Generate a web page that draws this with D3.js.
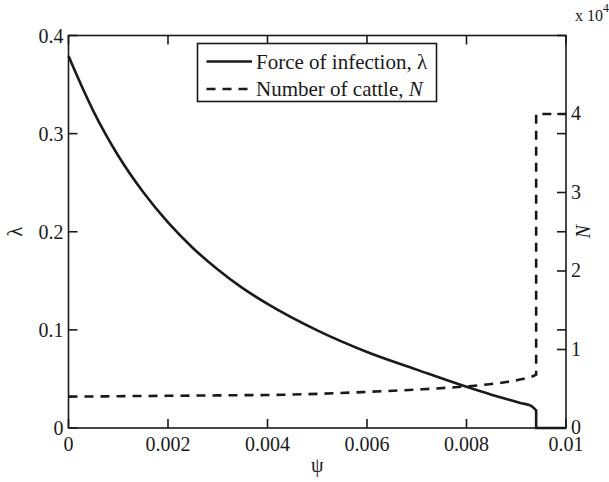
<!DOCTYPE html>
<html>
<head>
<meta charset="utf-8">
<script src="https://cdn.jsdelivr.net/npm/d3@7"></script>
<style>
  html, body { margin: 0; padding: 0; background: #fff; }
  svg { display: block; font-family: "Liberation Serif", "Times New Roman", serif; }
</style>
</head>
<body>
<div id="chart"></div>
<script>
// Data
const psi     = [0, 0.00025, 0.0005, 0.00075, 0.001, 0.0015, 0.002, 0.0025, 0.003, 0.0035, 0.004, 0.005, 0.006, 0.007, 0.008, 0.0085, 0.0088, 0.0091, 0.0093, 0.0094];
const lambda  = [0.379, 0.350, 0.323, 0.299, 0.2775, 0.2405, 0.2095, 0.1835, 0.1615, 0.1425, 0.1265, 0.0995, 0.0775, 0.0595, 0.0420, 0.034, 0.0296, 0.0253, 0.0225, 0.018];
const cattle  = [4000, 4010, 4020, 4030, 4050, 4080, 4100, 4130, 4150, 4180, 4200, 4350, 4600, 4900, 5300, 5600, 5850, 6200, 6500, 6800];
// step after the threshold
const psiStep    = [0.0094, 0.0094, 0.01];
const lambdaStep = [0.018, 0, 0];
const cattleStep = [6800, 40000, 40000];

const xTicks = [0, 0.002, 0.004, 0.006, 0.008, 0.01];
const xTickLabels = ['0', '0.002', '0.004', '0.006', '0.008', '0.01'];
const lTicks = [0, 0.1, 0.2, 0.3, 0.4];
const nTicks = [0, 10000, 20000, 30000, 40000];

const W = 609, H = 482;
const plot = { left: 68.5, right: 566, top: 35.5, bottom: 428 };
const ink = '#1a1a1a';
const tickLen = 9;

const x = d3.scaleLinear().domain([0, 0.01]).range([plot.left, plot.right]);
const yL = d3.scaleLinear().domain([0, 0.4]).range([plot.bottom, plot.top]);
const yN = d3.scaleLinear().domain([0, 50000]).range([plot.bottom, plot.top]);

const svg = d3.select('#chart').append('svg').attr('width', W).attr('height', H);

//Curves
const smoothL = d3.line().x(d => x(d[0])).y(d => yL(d[1])).curve(d3.curveMonotoneX);
const stepL   = d3.line().x(d => x(d[0])).y(d => yL(d[1]));
const smoothN = d3.line().x(d => x(d[0])).y(d => yN(d[1])).curve(d3.curveMonotoneX);
const stepN   = d3.line().x(d => x(d[0])).y(d => yN(d[1]));

const lamPts = psi.map((p, i) => [p, lambda[i]]);
const lamStepPts = psiStep.map((p, i) => [p, lambdaStep[i]]);
const catPts = psi.map((p, i) => [p, cattle[i]]);
const catStepPts = psiStep.map((p, i) => [p, cattleStep[i]]);

svg.append('path')
  .attr('d', smoothN(catPts) + stepN(catStepPts).replace(/^M/, 'L'))
  .attr('fill', 'none').attr('stroke', ink).attr('stroke-width', 2.6)
  .attr('stroke-dasharray', '9,7');

svg.append('path')
  .attr('d', smoothL(lamPts) + stepL(lamStepPts).replace(/^M/, 'L'))
  .attr('fill', 'none').attr('stroke', ink).attr('stroke-width', 2.6);

//Axes
const axisG = svg.append('g').attr('stroke', ink).attr('stroke-width', 1.6);
axisG.append('rect')
  .attr('x', plot.left).attr('y', plot.top)
  .attr('width', plot.right - plot.left).attr('height', plot.bottom - plot.top)
  .attr('fill', 'none');

xTicks.forEach(t => {
  axisG.append('line').attr('x1', x(t)).attr('x2', x(t)).attr('y1', plot.bottom).attr('y2', plot.bottom - tickLen);
  axisG.append('line').attr('x1', x(t)).attr('x2', x(t)).attr('y1', plot.top).attr('y2', plot.top + tickLen);
});
lTicks.forEach(t => {
  axisG.append('line').attr('x1', plot.left).attr('x2', plot.left + tickLen).attr('y1', yL(t)).attr('y2', yL(t));
  axisG.append('line').attr('x1', plot.right).attr('x2', plot.right - tickLen).attr('y1', yL(t)).attr('y2', yL(t));
});
nTicks.forEach(t => {
  axisG.append('line').attr('x1', plot.right).attr('x2', plot.right - tickLen).attr('y1', yN(t)).attr('y2', yN(t));
});

const labels = svg.append('g').attr('fill', ink).attr('font-size', 20);
xTicks.forEach((t, i) => {
  labels.append('text').attr('x', x(t)).attr('y', plot.bottom + 23)
    .attr('text-anchor', 'middle').text(xTickLabels[i]);
});
lTicks.forEach(t => {
  labels.append('text').attr('x', plot.left - 5).attr('y', yL(t) + 7)
    .attr('text-anchor', 'end').text(d3.format('~g')(t));
});
nTicks.forEach(t => {
  labels.append('text').attr('x', plot.right + 5).attr('y', yN(t) + 6)
    .attr('text-anchor', 'start').text(t / 1e4);
});

// exponent
const expo = svg.append('text').attr('x', 575).attr('y', 21).attr('fill', ink).attr('font-size', 16);
expo.append('tspan').text('x 10');
expo.append('tspan').attr('dy', -9).attr('font-size', 12).text('4');

// axis titles
labels.append('text').attr('x', (plot.left + plot.right) / 2).attr('y', 472)
  .attr('text-anchor', 'middle').text('ψ');
labels.append('text').attr('transform', `translate(22,${(plot.top + plot.bottom) / 2}) rotate(-90)`)
  .attr('text-anchor', 'middle').text('λ');
labels.append('text').attr('transform', `translate(590,${(plot.top + plot.bottom) / 2}) rotate(-90)`)
  .attr('text-anchor', 'middle').attr('font-style', 'italic').text('N');

//Legend
const leg = svg.append('g');
leg.append('rect').attr('x', 197.5).attr('y', 43.5).attr('width', 239).attr('height', 58)
  .attr('fill', '#fff').attr('stroke', ink).attr('stroke-width', 1.6);
const rows = [
  { y: 61.5, dash: null, label: 'Force of infection, ', sym: 'λ', italic: false },
  { y: 89, dash: '9,7', label: 'Number of cattle, ', sym: 'N', italic: true }
];
rows.forEach(r => {
  leg.append('line').attr('x1', 206.5).attr('x2', 252).attr('y1', r.y).attr('y2', r.y)
    .attr('stroke', ink).attr('stroke-width', 2.6).attr('stroke-dasharray', r.dash);
  const t = leg.append('text').attr('x', 256).attr('y', r.y + 7).attr('fill', ink).attr('font-size', 21);
  t.append('tspan').text(r.label);
  t.append('tspan').attr('font-style', r.italic ? 'italic' : 'normal').text(r.sym);
});
</script>
</body>
</html>
